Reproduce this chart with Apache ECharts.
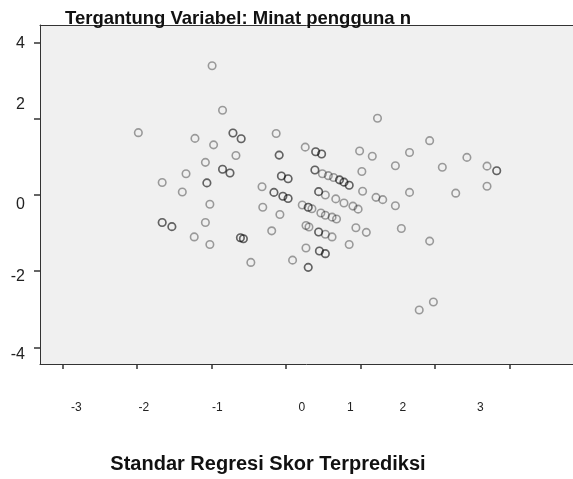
<!DOCTYPE html>
<html>
<head>
<meta charset="utf-8">
<script src="https://cdn.jsdelivr.net/npm/echarts@6/dist/echarts.min.js"></script>
<style>
  html, body { margin: 0; padding: 0; background: #fff; }
  #chart { width: 573px; height: 479px; }
</style>
</head>
<body>
<div id="chart"></div>
<script>
// standardized predicted value (x) and standardized residual (y), one entry per case
const predicted = [
  -0.99, -0.85, 1.23, -1.98, -1.22, -0.71, -0.71, -0.60, -0.60, -0.97,
  -0.13, 1.93, -0.67, -0.09, -0.09, 0.26, 0.40, 0.40, 0.48, 0.48,
  0.99, 1.16, 1.66, 2.43, -1.08, -0.85, -0.85, -0.75, -0.75, -1.34,
  -0.06, -0.06, 0.03, 0.03, 1.47, 2.10, 2.70, 2.83, 2.83, 1.02,
  0.39, 0.39, 0.49, 0.57, 0.64, 0.72, 0.72, 0.78, 0.78, 0.85,
  0.85, -1.66, -1.06, -1.06, -0.32, 2.70, 1.03, 1.66, 2.28, -1.39,
  -0.16, -0.16, -0.04, -0.04, 0.03, 0.03, 0.44, 0.44, 0.53, 0.67,
  0.78, 0.90, 0.97, 1.21, 1.30, 1.47, -1.02, -0.31, 0.22, 0.30,
  0.30, 0.35, -0.08, 0.47, 0.53, 0.62, 0.68, -1.66, -1.66, -1.53,
  -1.53, -1.08, -0.19, 0.27, 0.31, 0.44, 0.44, 0.53, 0.62, 0.94,
  1.08, 1.55, -1.23, -0.61, -0.61, -0.57, -0.57, -1.02, 0.85, 1.93,
  0.27, 0.45, 0.45, 0.53, 0.53, -0.47, 0.09, 0.30, 0.30, 1.79,
  1.98
]
const residual = [
  3.40, 2.23, 2.02, 1.64, 1.49, 1.63, 1.63, 1.48, 1.48, 1.32,
  1.62, 1.43, 1.04, 1.05, 1.05, 1.26, 1.14, 1.14, 1.08, 1.08,
  1.16, 1.02, 1.12, 0.99, 0.86, 0.68, 0.68, 0.58, 0.58, 0.56,
  0.50, 0.50, 0.43, 0.43, 0.77, 0.73, 0.76, 0.64, 0.64, 0.62,
  0.66, 0.66, 0.56, 0.51, 0.46, 0.40, 0.40, 0.34, 0.34, 0.26,
  0.26, 0.33, 0.32, 0.32, 0.22, 0.23, 0.10, 0.07, 0.05, 0.08,
  0.07, 0.07, -0.03, -0.03, -0.09, -0.09, 0.09, 0.09, 0.00, -0.10,
  -0.21, -0.29, -0.37, -0.06, -0.12, -0.28, -0.24, -0.32, -0.26, -0.32,
  -0.32, -0.36, -0.51, -0.47, -0.53, -0.58, -0.63, -0.72, -0.72, -0.83,
  -0.83, -0.72, -0.94, -0.80, -0.84, -0.97, -0.97, -1.03, -1.10, -0.86,
  -0.98, -0.88, -1.10, -1.12, -1.12, -1.15, -1.15, -1.30, -1.30, -1.21,
  -1.39, -1.47, -1.47, -1.54, -1.54, -1.77, -1.71, -1.90, -1.90, -3.02,
  -2.81
]
const xTicks = [-3, -2, -1, 0, 1, 2, 3]
const yTicks = [-4, -2, 0, 2, 4]

const titleText = 'Tergantung Variabel: Minat pengguna n'
const xName = 'Standar Regresi Skor Terprediksi'

// the labels in the original sit a bit off their ticks
const xShift = [14, 7, 6, 16, -10, -32, -29]
const yShift = [7, 5, 10, -14, 1]

const xRich = {}
xShift.forEach((s, i) => {
  xRich['s' + i] = { fontSize: 12, color: '#222', padding: s > 0 ? [0, 0, 0, 2 * s] : [0, -2 * s, 0, 0] }
})
const yRich = {}
yShift.forEach((s, i) => {
  yRich['s' + i] = { fontSize: 16, color: '#222', padding: s > 0 ? [2 * s, 0, 0, 0] : [0, 0, -2 * s, 0] }
})

const points = predicted.map((x, i) => [x, residual[i]])

const xMin = -3.3
const xMax = 3.854
const frameLine = { color: '#333', width: 1 }

const chart = echarts.init(document.getElementById('chart'))
const option = {
  animation: false,
  textStyle: { fontFamily: 'Liberation Sans, Arial, sans-serif' },
  title: {
    text: titleText,
    left: 65,
    top: 9,
    padding: 0,
    textStyle: { fontSize: 18.5, fontWeight: 'bold', color: '#111' }
  },
  grid: {
    left: 40,
    right: 0,
    top: 25,
    bottom: 111,
    show: true,
    backgroundColor: '#f0f0f0',
    borderWidth: 0
  },
  xAxis: [
    {
      type: 'value',
      min: xMin,
      max: xMax,
      name: xName,
      nameLocation: 'middle',
      nameGap: 90,
      nameTextStyle: { fontSize: 20, fontWeight: 'bold', color: '#111', padding: [0, 77, 0, 0] },
      axisLine: { show: true, onZero: false, lineStyle: frameLine },
      axisTick: { show: true, customValues: xTicks, length: 5, lineStyle: { color: '#333', width: 1.5 } },
      axisLabel: {
        customValues: xTicks,
        margin: 38,
        formatter: v => '{s' + xTicks.indexOf(v) + '|' + v + '}',
        rich: xRich
      },
      splitLine: { show: false }
    },
    {
      // top edge of the frame only
      type: 'value',
      position: 'top',
      min: xMin,
      max: xMax,
      axisLine: { show: true, onZero: false, lineStyle: frameLine },
      axisTick: { show: false },
      axisLabel: { show: false },
      splitLine: { show: false }
    }
  ],
  yAxis: {
    type: 'value',
    min: -4.44,
    max: 4.47,
    axisLine: { show: true, onZero: false, lineStyle: frameLine },
    axisTick: { show: true, customValues: yTicks, length: 6, lineStyle: { color: '#333', width: 1.5 } },
    axisLabel: {
      customValues: yTicks,
      margin: 15,
      formatter: v => '{s' + yTicks.indexOf(v) + '|' + v + '}',
      rich: yRich
    },
    splitLine: { show: false }
  },
  series: [
    {
      type: 'scatter',
      data: points,
      symbol: 'circle',
      symbolSize: 7.5,
      itemStyle: { color: 'transparent', borderColor: 'rgba(0,0,0,0.45)', borderWidth: 1.6 },
      emphasis: { disabled: true }
    }
  ]
}
chart.setOption(option)
</script>
</body>
</html>
